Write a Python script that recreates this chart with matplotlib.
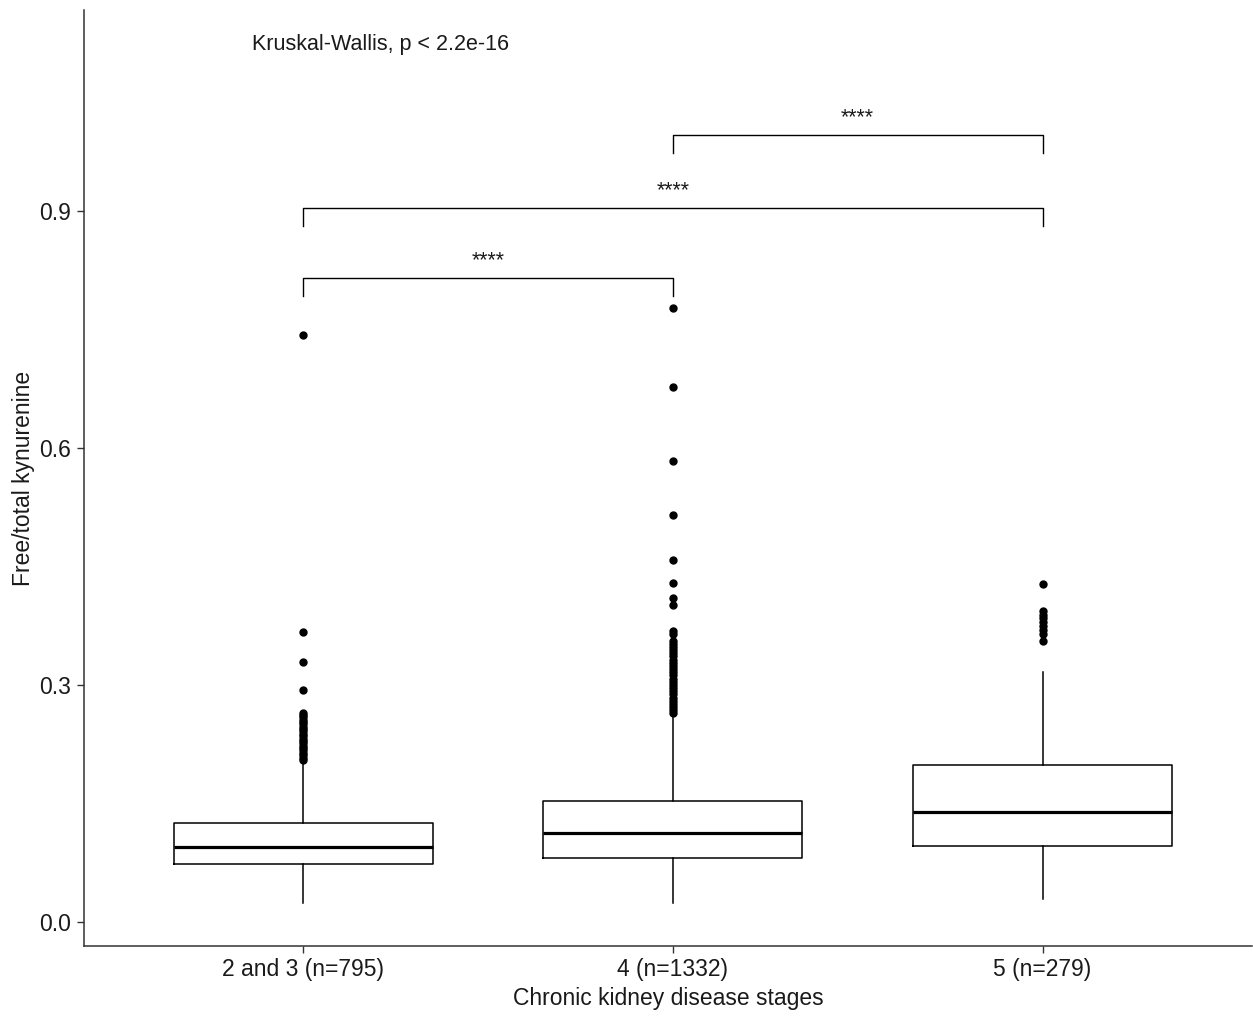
import matplotlib.pyplot as plt

plt.rcParams['font.family'] = ['Liberation Sans', 'DejaVu Sans']

# box statistics per CKD stage
stages = ['2 and 3 (n=795)', '4 (n=1332)', '5 (n=279)']
whislo = [0.024, 0.024, 0.029]
q1 = [0.073, 0.081, 0.096]
med = [0.095, 0.113, 0.139]
q3 = [0.125, 0.153, 0.199]
whishi = [0.203, 0.262, 0.316]

fliers_1 = [0.743, 0.367, 0.329, 0.294, 0.265, 0.262, 0.259, 0.256, 0.253,
            0.250, 0.247, 0.244, 0.241, 0.238, 0.235, 0.232, 0.229, 0.226,
            0.223, 0.220, 0.217, 0.214, 0.211, 0.208, 0.205]
fliers_2 = [0.777, 0.677, 0.583, 0.515, 0.458, 0.429, 0.410, 0.401, 0.368,
            0.364, 0.356, 0.352, 0.348, 0.344, 0.340, 0.336, 0.332, 0.328,
            0.324, 0.320, 0.316, 0.312, 0.308, 0.304, 0.300, 0.296, 0.292,
            0.288, 0.284, 0.280, 0.276, 0.272, 0.268, 0.265]
fliers_3 = [0.428, 0.394, 0.389, 0.384, 0.379, 0.374, 0.369, 0.364, 0.356]
fliers = [fliers_1, fliers_2, fliers_3]

# pairwise comparisons: (group a, group b, bracket height, label)
pairs = [(1, 2, 0.815, '****'), (1, 3, 0.904, '****'), (2, 3, 0.996, '****')]
kw_text = 'Kruskal-Wallis, p < 2.2e-16'

stats = [dict(whislo=whislo[i], q1=q1[i], med=med[i], q3=q3[i],
              whishi=whishi[i], fliers=fliers[i]) for i in range(3)]

fig = plt.figure(figsize=(12.53, 10.16), dpi=100)
ax = fig.add_axes([0.067, 0.069, 0.932, 0.921])

lw = 1.1
ax.bxp(stats, positions=[1, 2, 3], widths=0.7, showcaps=False,
       boxprops=dict(color='black', linewidth=lw),
       whiskerprops=dict(color='black', linewidth=lw),
       medianprops=dict(color='black', linewidth=2.3),
       flierprops=dict(marker='o', markerfacecolor='black',
                       markeredgecolor='black', markersize=5))

tick = 0.023
for a, b, h, lab in pairs:
    ax.plot([a, a, b, b], [h - tick, h, h, h - tick], color='black', lw=1.0)
    ax.text((a + b) / 2, h + 0.008, lab, ha='center', va='bottom',
            fontsize=15.5, color='#1a1a1a')

ax.text(0.862, 1.111, kw_text, ha='left', va='center', fontsize=15.5,
        color='#1a1a1a')

ax.set_xlim(0.407, 3.566)
ax.set_ylim(-0.0304, 1.154)
ax.set_xticks([1, 2, 3])
ax.set_xticklabels(stages)
ax.set_yticks([0.0, 0.3, 0.6, 0.9])
ax.set_yticklabels(['0.0', '0.3', '0.6', '0.9'])
ax.tick_params(labelsize=16.5, length=5, width=1.0, color='#333333',
               labelcolor='#1a1a1a', pad=4)
ax.set_xlabel('Chronic kidney disease stages', fontsize=16.5, labelpad=4,
              color='#1a1a1a')
ax.set_ylabel('Free/total kynurenine', fontsize=16.5, labelpad=3,
              color='#1a1a1a')

for s in ['top', 'right']:
    ax.spines[s].set_visible(False)
for s in ['left', 'bottom']:
    ax.spines[s].set_linewidth(1.1)
    ax.spines[s].set_color('#333333')

fig.savefig('out.png', dpi=100)
